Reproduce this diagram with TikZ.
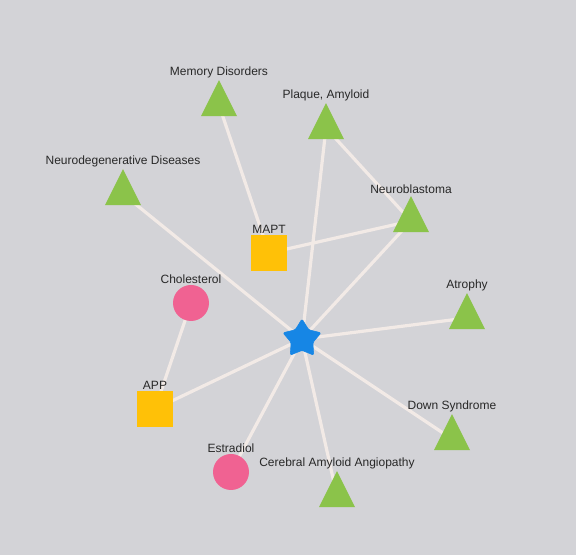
\documentclass[tikz,border=0pt]{standalone}
\usepackage{fontspec}
\setmainfont{Liberation Sans}
\usetikzlibrary{shapes.geometric}
\definecolor{bggray}{RGB}{211,211,215}
\definecolor{edgecol}{RGB}{242,234,230}
\definecolor{diseasegreen}{RGB}{139,195,74}
\definecolor{geneyellow}{RGB}{255,193,7}
\definecolor{chempink}{RGB}{240,98,146}
\definecolor{hubblue}{RGB}{22,134,229}
\definecolor{labeltext}{RGB}{40,40,40}
\pgfdeclarelayer{canvas}
\pgfdeclarelayer{edges}
\pgfsetlayers{canvas,edges,main}
\tikzset{
  lbl/.style={font=\fontsize{9}{10}\selectfont, text=labeltext, inner sep=1pt},
  disease/.style={
    isosceles triangle,
    isosceles triangle stretches,
    shape border rotate=90,
    fill=diseasegreen,
    minimum width=27pt,
    minimum height=27pt,
    inner sep=0pt
  },
  gene/.style={
    rectangle,
    fill=geneyellow,
    minimum size=27pt,
    inner sep=0pt
  },
  chem/.style={
    circle,
    fill=chempink,
    minimum size=27pt,
    inner sep=0pt
  },
  hub/.style={
    star,
    star points=5,
    star point ratio=1.75,
    fill=hubblue,
    draw=hubblue,
    rounded corners=1pt,
    minimum size=30pt,
    inner sep=0pt
  },
  link/.style={draw=edgecol, line width=2.4pt}
}

\begin{document}
\begin{tikzpicture}[x=0.75pt, y=-0.75pt]
  \begin{pgfonlayer}{canvas}
    \fill[bggray] (0,0) rectangle (576,555);
  \end{pgfonlayer}
  \useasboundingbox (0,0) rectangle (576,555);

  \node[hub] (centre) at (302,339) {};

  % triangles sit a little low of their anchor
  \node[disease, label={[lbl]above:Memory Disorders}] (memory) at (219,105) {};
  \node[disease, label={[lbl]above:{Plaque, Amyloid}}] (plaque) at (326,128) {};
  \node[disease, label={[lbl]above:Neurodegenerative Diseases}] (neurodeg) at (123,194) {};
  \node[disease, label={[lbl]above:Neuroblastoma}] (neuroblast) at (411,221) {};
  \node[disease, label={[lbl]above:Atrophy}] (atrophy) at (467,318) {};
  \node[disease, label={[lbl]above:Down Syndrome}] (down) at (452,439) {};
  \node[disease, label={[lbl]above:Cerebral Amyloid Angiopathy}] (caa) at (337,496) {};

  \node[gene, label={[lbl]above:MAPT}] (mapt) at (269,253) {};
  \node[gene, label={[lbl]above:APP}] (app) at (155,409) {};

  \node[chem, label={[lbl]above:Cholesterol}] (chol) at (191,303) {};
  \node[chem, label={[lbl]above:Estradiol}] (estra) at (231,472) {};

  \begin{pgfonlayer}{edges}
    \draw[link] (memory.center) -- (mapt.center);
    \draw[link] (mapt.center) -- (neuroblast.center);
    \draw[link] (plaque.center) -- (neuroblast.center);
    \draw[link] (app.center) -- (chol.center);
    \foreach \n in {plaque,neurodeg,neuroblast,atrophy,down,caa,estra,app}
      \draw[link] (centre.center) -- (\n.center);
  \end{pgfonlayer}
\end{tikzpicture}
\end{document}
